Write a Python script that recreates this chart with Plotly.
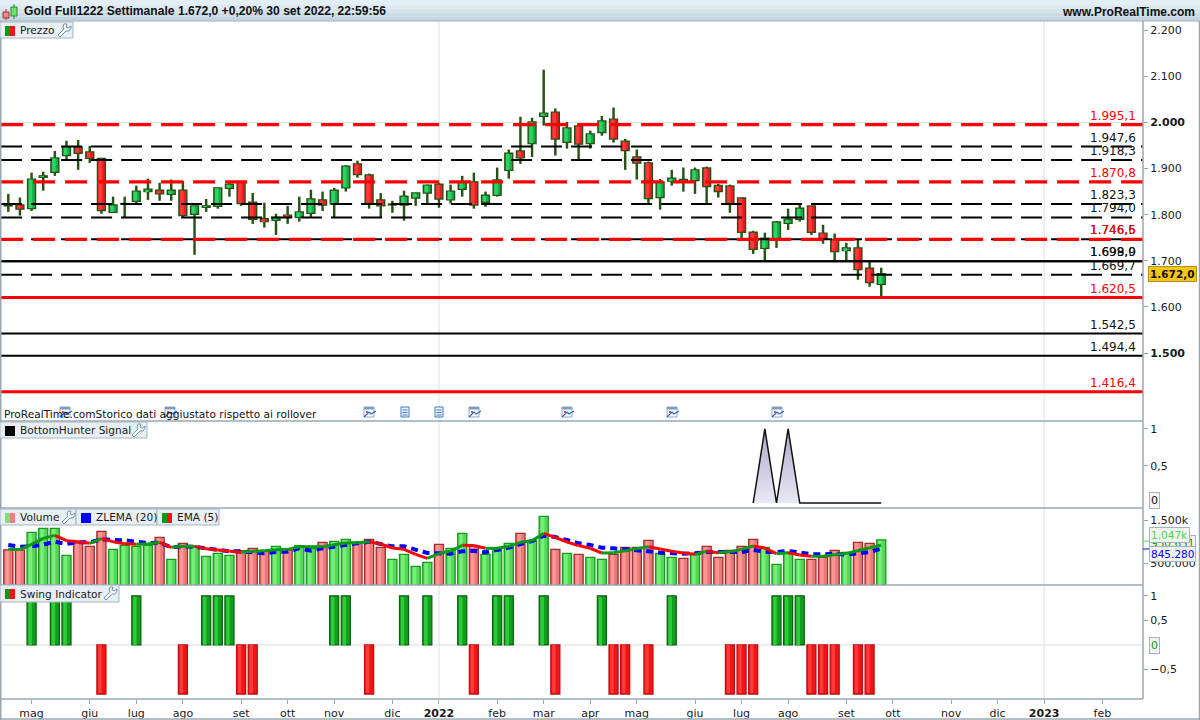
import plotly.graph_objects as go

WEEKS = list(range(76))
OPEN = [1819,1821,1813,1881,1892,1928,1946,1936,1922,1805,1823,1829,1850,1853,1844,1853,1801,1816,1818,1857,1871,1827,1791,1788,1799,1794,
        1803,1832,1823,1858,1910,1886,1832,1823,1821,1836,1847,1866,1832,1855,1871,1827,1842,1896,1938,1954,2013,2022,1957,1992,1954,
        1978,2007,1959,1925,1912,1837,1873,1872,1874,1901,1863,1862,1836,1762,1727,1747,1781,1790,1819,1760,1746,1722,1728,1684,1649]
HIGH = [1845,1837,1891,1893,1938,1960,1962,1949,1923,1839,1839,1863,1878,1869,1876,1873,1819,1834,1858,1870,1873,1847,1826,1802,1819,1839,
        1854,1850,1858,1907,1917,1889,1847,1830,1852,1847,1865,1869,1865,1884,1891,1850,1902,1941,2012,2010,2114,2030,2001,1993,1982,
        2014,2032,1964,1941,1915,1877,1897,1902,1902,1904,1867,1865,1837,1765,1761,1786,1813,1821,1819,1778,1759,1739,1746,1698,1685]
LOW = [1806,1798,1808,1852,1884,1920,1897,1912,1802,1805,1794,1824,1832,1830,1830,1794,1713,1806,1813,1839,1819,1780,1772,1756,1780,1785,
       1795,1808,1795,1850,1880,1813,1795,1804,1787,1819,1825,1815,1824,1839,1813,1817,1839,1878,1910,1925,1993,1928,1943,1919,1943,
       1971,1956,1897,1876,1825,1811,1863,1850,1845,1825,1837,1804,1748,1715,1700,1728,1767,1785,1756,1737,1700,1700,1659,1644,1618]
CLOSE = [1821,1812,1877,1884,1923,1947,1933,1922,1809,1821,1824,1851,1855,1845,1853,1798,1819,1819,1858,1866,1824,1790,1785,1794,1794,1806,
         1834,1821,1853,1905,1887,1823,1819,1821,1840,1847,1864,1834,1851,1871,1821,1842,1875,1933,1923,2001,2020,1964,1988,1953,1975,
         2003,1964,1939,1912,1835,1871,1879,1876,1897,1861,1850,1824,1762,1725,1749,1784,1790,1814,1762,1748,1720,1728,1681,1653,1672]

RED_DASHED = [1995.1, 1870.8, 1746.6]
BLACK_DASHED = [1947.6, 1918.3, 1823.3, 1794.0, 1746.5, 1669.7]
BLACK_SOLID = [1698.9, 1699.0, 1542.5, 1494.4]
RED_SOLID = [1620.5, 1416.4]
LEVEL_TEXT = {1995.1:"1.995,1",1870.8:"1.870,8",1746.6:"1.746,6",1947.6:"1.947,6",1918.3:"1.918,3",1823.3:"1.823,3",
              1794.0:"1.794,0",1746.5:"1.746,5",1669.7:"1.669,7",1698.9:"1.698,9",1699.0:"1.699,0",1542.5:"1.542,5",
              1494.4:"1.494,4",1620.5:"1.620,5",1416.4:"1.416,4"}

SIGNAL_WEEKS = [64,65,66,67,68,69,70,71,72,73,74,75]
SIGNAL = [0,1,0,1,0,0,0,0,0,0,0,0]

VOLUME = [814,814,1225,1318,1318,690,977,899,1248,829,922,899,922,1108,597,969,899,667,736,690,798,853,783,899,814,915,
          853,992,1015,1062,992,1062,876,597,713,434,527,946,853,1201,899,713,853,969,1201,1039,1597,829,736,713,643,597,
          713,876,876,1039,736,643,620,713,899,643,806,899,1062,876,481,760,597,597,643,806,760,992,969,1047]
VOLUME_UP = [0,0,1,1,1,1,0,0,0,1,1,1,1,0,1,0,1,1,1,1,0,0,0,1,0,1,
             1,0,1,1,0,0,0,1,1,1,1,0,1,1,0,1,1,1,0,1,1,0,1,0,1,1,
             0,0,0,0,1,1,0,1,0,0,0,0,0,1,1,1,1,0,0,0,1,0,0,1]
EMA5 = [829,829,946,1085,1155,1031,1008,969,1077,1008,961,946,953,992,876,899,899,845,814,783,760,783,798,822,829,891,
        891,891,938,977,984,1008,953,860,829,713,620,729,791,922,920,853,853,899,992,1031,1201,1108,1000,915,853,744,
        752,798,845,891,837,783,744,713,783,752,775,829,907,860,729,752,698,667,667,705,736,798,868,930]
ZLEMA20 = [930,891,899,938,1008,953,992,992,1062,1062,1039,1008,977,984,876,899,891,853,822,783,783,767,736,767,775,853,
           798,853,899,946,969,1008,961,899,899,822,744,736,729,783,798,760,806,868,953,1023,1147,1116,1046,969,930,868,
           853,837,814,783,752,729,729,736,767,767,760,767,814,775,767,791,760,713,713,729,705,729,767,845]

SWING_UP_WEEKS = [2,4,5,11,17,18,19,28,29,34,36,39,42,43,46,51,57,66,67,68]
SWING_DOWN_WEEKS = [8,15,20,21,31,40,47,52,53,55,62,63,64,69,70,71,73,74]

MONTH_TICKS = [2,7,11,15,20,24,28,33,37,42,46,50,54,59,63,67,72,76,81,85,89,94]
MONTH_TEXT = ["mag","giu","lug","ago","set","ott","nov","dic","<b>2022</b>","feb","mar","apr","mag","giu","lug","ago","set","ott","nov","dic","<b>2023</b>","feb"]
YEAR_LINES = [37, 89]
PRICE_TICKS = [2200,2100,2000,1900,1800,1700,1600,1500]
PRICE_TEXT = ["2.200","2.100","<b>2.000</b>","1.900","1.800","1.700","1.600","<b>1.500</b>"]

W, H = 1200, 720
AXIS_PX = 1143
FONT = "DejaVu Sans"
INK = "#1a1a1a"
EDGE = "#9aa7b1"
WICK = "#265214"
X = lambda p: p / W
Y = lambda p: 1 - p / H
def dom(top, bot):
    return [Y(bot), Y(top)]

fig = go.Figure()

# price: wick, body, lighter strip in the body
body_base = [min(o, c) for o, c in zip(OPEN, CLOSE)]
body_size = [max(abs(c - o), 1) for o, c in zip(OPEN, CLOSE)]
is_up = [c >= o for o, c in zip(OPEN, CLOSE)]
fig.add_trace(go.Bar(x=WEEKS, y=[h - l for h, l in zip(HIGH, LOW)], base=LOW, width=0.21, yaxis="y", showlegend=False,
    marker=dict(color=WICK, line=dict(width=0))))
fig.add_trace(go.Bar(x=WEEKS, y=body_size, base=body_base, width=0.68, yaxis="y", showlegend=False,
    marker=dict(color=["#16ad46" if u else "#f01a20" for u in is_up], line=dict(color=WICK, width=1.4))))
fig.add_trace(go.Bar(x=WEEKS, y=[max(s - 2, 0) for s in body_size], base=[b + 1 for b in body_base], width=0.3, offset=-0.24, yaxis="y",
    showlegend=False, hoverinfo="skip", marker=dict(color=["#2cd468" if u else "#ff3a3a" for u in is_up], line=dict(width=0))))

x_ends = [-0.62, 97.49]
for v in BLACK_DASHED:
    fig.add_trace(go.Scatter(x=x_ends, y=[v, v], mode="lines", line=dict(color="black", width=2, dash="21px,9px"), yaxis="y", hoverinfo="skip", showlegend=False))
for v in BLACK_SOLID:
    fig.add_trace(go.Scatter(x=x_ends, y=[v, v], mode="lines", line=dict(color="black", width=2), yaxis="y", hoverinfo="skip", showlegend=False))
for v in RED_DASHED:
    fig.add_trace(go.Scatter(x=x_ends, y=[v, v], mode="lines", line=dict(color="#ff0000", width=3.2, dash="22px,10px"), yaxis="y", hoverinfo="skip", showlegend=False))
for v in RED_SOLID:
    fig.add_trace(go.Scatter(x=x_ends, y=[v, v], mode="lines", line=dict(color="#ff0000", width=3.2), yaxis="y", hoverinfo="skip", showlegend=False))

# signal
fig.add_trace(go.Scatter(x=SIGNAL_WEEKS, y=SIGNAL, mode="lines", fill="tozeroy",
    fillgradient=dict(type="vertical", colorscale=[[0, "#e9e9f5"], [1, "#a9a9c9"]]),
    line=dict(color="#111111", width=1.5), yaxis="y2", hoverinfo="skip", showlegend=False))

# volume
fig.add_trace(go.Bar(x=WEEKS, y=VOLUME, width=0.78, yaxis="y3", showlegend=False,
    marker=dict(color=["#55d85a" if u else "#e87a7a" for u in VOLUME_UP],
                line=dict(color=["#17991f" if u else "#a02c2c" for u in VOLUME_UP], width=1.3))))
fig.add_trace(go.Bar(x=WEEKS, y=[v - 15 for v in VOLUME], width=0.3, offset=-0.25, yaxis="y3", showlegend=False, hoverinfo="skip",
    marker=dict(color=["#78ee78" if u else "#ff9696" for u in VOLUME_UP], line=dict(width=0))))
fig.add_trace(go.Scatter(x=WEEKS, y=ZLEMA20, mode="lines", line=dict(color="#0000ff", width=4, dash="7px,5px"), yaxis="y3", hoverinfo="skip", showlegend=False))
gx, gy, rx, ry = [], [], [], []
for i in range(1, len(EMA5)):
    tx, ty = (gx, gy) if EMA5[i] >= EMA5[i-1] else (rx, ry)
    tx += [WEEKS[i-1], WEEKS[i], None]
    ty += [EMA5[i-1], EMA5[i], None]
fig.add_trace(go.Scatter(x=rx, y=ry, mode="lines", line=dict(color="#ff0000", width=3), yaxis="y3", hoverinfo="skip", showlegend=False))
fig.add_trace(go.Scatter(x=gx, y=gy, mode="lines", line=dict(color="#0a9a14", width=3), yaxis="y3", hoverinfo="skip", showlegend=False))

# swing
fig.add_trace(go.Bar(x=SWING_UP_WEEKS, y=[1]*len(SWING_UP_WEEKS), width=0.78, yaxis="y4", showlegend=False,
    marker=dict(color="#0f9f1c", line=dict(color="#0a5f10", width=1.2))))
fig.add_trace(go.Bar(x=SWING_UP_WEEKS, y=[0.98]*len(SWING_UP_WEEKS), width=0.3, offset=-0.28, yaxis="y4", showlegend=False, hoverinfo="skip",
    marker=dict(color="#2ecb38", line=dict(width=0))))
fig.add_trace(go.Bar(x=SWING_DOWN_WEEKS, y=[-1]*len(SWING_DOWN_WEEKS), width=0.78, yaxis="y4", showlegend=False,
    marker=dict(color="#f01414", line=dict(color="#b80f0f", width=1.2))))
fig.add_trace(go.Bar(x=SWING_DOWN_WEEKS, y=[-0.98]*len(SWING_DOWN_WEEKS), width=0.3, offset=-0.28, yaxis="y4", showlegend=False, hoverinfo="skip",
    marker=dict(color="#ff3a3a", line=dict(width=0))))

shapes, ann = [], []
def rect(x0, y0, x1, y1, fill, line=None, lw=1, layer="above"):
    shapes.append(dict(type="rect", xref="paper", yref="paper", x0=X(x0), x1=X(x1), y0=Y(y1), y1=Y(y0),
                       fillcolor=fill, line=dict(color=line or fill, width=lw if line else 0), layer=layer))
def hline(y, x0=0, x1=AXIS_PX, color=EDGE, w=1.5):
    shapes.append(dict(type="line", xref="paper", yref="paper", x0=X(x0), x1=X(x1), y0=Y(y), y1=Y(y), line=dict(color=color, width=w), layer="above"))
def vline(x, y0, y1, color=EDGE, w=1.5):
    shapes.append(dict(type="line", xref="paper", yref="paper", x0=X(x), x1=X(x), y0=Y(y0), y1=Y(y1), line=dict(color=color, width=w), layer="above"))
def text(x, y, s, size=10.6, color=INK, anchor="left", bold=False, family=FONT):
    ann.append(dict(xref="paper", yref="paper", x=X(x), y=Y(y), text=f"<b>{s}</b>" if bold else s, showarrow=False, xanchor=anchor, yanchor="middle",
                    font=dict(family=family, size=size, color=color), borderpad=0))
def wrench(x, y):
    pts = [(0,11),(2,13),(8,7),(11,7),(13,4),(13,2),(10,4),(8,3),(9,0),(6,0),(5,3),(6,5)]
    d = "M" + " L".join(f"{X(x+a)},{Y(y+b)}" for a, b in pts) + " Z"
    shapes.append(dict(type="path", xref="paper", yref="paper", path=d, fillcolor="white", line=dict(color="#6d93b8", width=1), layer="above"))
def chip(x0, x1, y0, y1, sw, label, wr=None):
    rect(x0, y0, x1, y1, "#e8eff4", "#a5b4c0", 1)
    sx = x0 + 5
    if len(sw) == 1:
        rect(sx, y0+4, sx+10, y0+14, sw[0])
    else:
        rect(sx, y0+4, sx+5, y0+14, sw[0])
        rect(sx+5, y0+4, sx+10, y0+14, sw[1])
    text(x0+19, (y0+y1)/2, label)
    if wr:
        wrench(wr, y0+2)

for v in YEAR_LINES:
    shapes.append(dict(type="line", xref="x", yref="paper", x0=v, x1=v, y0=Y(699), y1=Y(21), line=dict(color="#e2e2ea", width=1.2), layer="below"))

# title bar
bands = ["#e4eff5","#dce9f0","#d4e2ea","#cbdbe4","#c4d5df"]
for k, c in enumerate(bands):
    rect(0, k*4.2, W, (k+1)*4.2, c)
hline(21, 0, W, "#9fb0bc", 1)
vline(6, 9, 20, "#a03030", 1)
rect(3, 12, 9, 18, "#f08a8a", "#a03030", 1)
vline(14, 4, 19, "#2a8a2a", 1)
rect(11, 7, 17, 16, "#6fe06f", "#2a8a2a", 1)
text(23, 11, "Gold Full1222 Settimanale 1.672,0 +0,20% 30 set 2022, 22:59:56", 12.1, "#111111", bold=True, family="Liberation Sans")
text(1196, 12, "www.ProRealTime.com", 12, "#111111", "right", True, family="Liberation Sans")

# panel frame
hline(421); hline(508); hline(585); hline(699)
vline(AXIS_PX, 21, 699); vline(0.5, 21, 720, EDGE, 2)
hline(719, 0, W); vline(1199.5, 21, 720)

# chips
chip(0, 73, 22, 38, ["#0a9a14", "#f01414"], "Prezzo", 58)
chip(0, 147, 422, 438, ["#000000"], "BottomHunter Signal", 132)
chip(0, 76, 509, 525, ["#7be07b", "#ef7f7f"], "Volume", 62)
chip(76, 157, 509, 525, ["#0000ff"], "ZLEMA (20)")
chip(157, 219, 509, 525, ["#0a9a14", "#f01414"], "EMA (5)")
chip(0, 119, 585, 602, ["#0a9a14", "#f01414"], "Swing Indicator", 104)

# event icons
for ex in [65, 170, 369, 474, 567, 672, 777]:
    rect(ex-5, 407, ex+5, 417, "#ffffff", "#8fa6c4", 1)
    rect(ex-5, 407, ex+5, 409.5, "#7f9ac0")
    rect(ex-3, 411, ex-1, 413, "#e05050")
    shapes.append(dict(type="path", xref="paper", yref="paper", path=f"M{X(ex-5)},{Y(417)} L{X(ex)},{Y(412)} L{X(ex+2)},{Y(414)} L{X(ex+7)},{Y(411)}",
                       line=dict(color="#2a66c8", width=1.2), layer="above"))
for ex in [405, 439]:
    rect(ex-4, 407, ex+4, 417, "#eef4fb", "#3d78c8", 1)
    for ly in [410, 412.5, 415]:
        hline(ly, ex-2.5, ex+2.5, "#3d78c8", 1)
text(3, 414.5, "ProRealTime.comStorico dati aggiustato rispetto ai rollover", 10.6, "#111111")

# level labels
for v in BLACK_DASHED + BLACK_SOLID + RED_DASHED + RED_SOLID:
    red = v in RED_DASHED or v in RED_SOLID
    ann.append(dict(xref="paper", yref="y", x=X(1138), y=v, text=LEVEL_TEXT[v], showarrow=False, xanchor="right", yanchor="middle", yshift=9,
                    font=dict(family=FONT, size=12, color="#ff0000" if red else "#111111")))

# value tags
def tag(y, s, color, bg="#f2f2f2", border="#a8b2ba", x=1149, size=11, bold=False, pad=1):
    ann.append(dict(xref="paper", yref="paper", x=X(x), y=Y(y), text=f"<b>{s}</b>" if bold else s, showarrow=False, xanchor="left", yanchor="middle",
                    font=dict(family=FONT, size=size, color=color), bgcolor=bg, bordercolor=border, borderwidth=1, borderpad=pad))
tag(273.5, "1.672,0", "#111111", "#f5c518", "#b09020", 1148, 10.5, True)
tag(500, "0", "#111111", "#f4f4f4")
tag(543, "930.651", "#0a9a14", size=10.5)
tag(535, "1.047k", "#4fd64f", size=10.5)
tag(554, "845.280", "#0000ff", size=10.5)
tag(645.5, "0", "#0a9a14")
shapes.append(dict(type="line", xref="paper", yref="paper", x0=X(1143), x1=X(1149), y0=Y(541), y1=Y(541), line=dict(color="#4fd64f", width=1), layer="above"))
shapes.append(dict(type="line", xref="paper", yref="paper", x0=X(1143), x1=X(1149), y0=Y(549), y1=Y(549), line=dict(color="#0000ff", width=1), layer="above"))

tf = dict(family=FONT, size=11, color=INK)
yc = dict(side="right", anchor="x", ticks="outside", ticklen=4, tickcolor=EDGE, tickfont=tf, showline=False, zeroline=False, showgrid=False, fixedrange=True)
layout = dict(
    width=W, height=H, autosize=False, margin=dict(l=0, r=0, t=0, b=0), paper_bgcolor="white", plot_bgcolor="white",
    barmode="overlay", showlegend=False, shapes=shapes, annotations=ann, font=dict(family=FONT),
    xaxis=dict(domain=[0, AXIS_PX/W], range=[-0.713, 97.49], anchor="y4", tickmode="array", tickvals=MONTH_TICKS, ticktext=MONTH_TEXT,
               ticks="outside", ticklen=4, tickcolor=EDGE, tickfont=tf, showgrid=False, zeroline=False, showline=False),
    yaxis=dict(domain=dom(21, 421), range=[1353, 2219.5], tickmode="array", tickvals=PRICE_TICKS, ticktext=PRICE_TEXT, **yc),
    yaxis2=dict(domain=dom(421, 508), range=[-0.0676, 1.108], tickmode="array", tickvals=[1, 0.5], ticktext=["1", "0,5"], **yc),
    yaxis3=dict(domain=dom(508, 585), range=[0, 1791], tickmode="array", tickvals=[1500, 500], ticktext=["1.500k", "500.000"], **yc),
    yaxis4=dict(domain=dom(585, 699), range=[-1.1, 1.22], tickmode="array", tickvals=[1, 0.5, -0.5], ticktext=["1", "0,5", "\u22120,5"], **yc),
)
fig.update_layout(**layout)
fig.add_hline(y=2000, line=dict(color="#e2e2ea", width=1.2), layer="below", yref="y")
fig.add_hline(y=0, line=dict(color="#e2e2ea", width=1.2), layer="below", yref="y4")
fig.write_html("out.html", config={"displayModeBar": False},
               post_script="document.body.style.margin='0';document.body.style.overflow='hidden';")
